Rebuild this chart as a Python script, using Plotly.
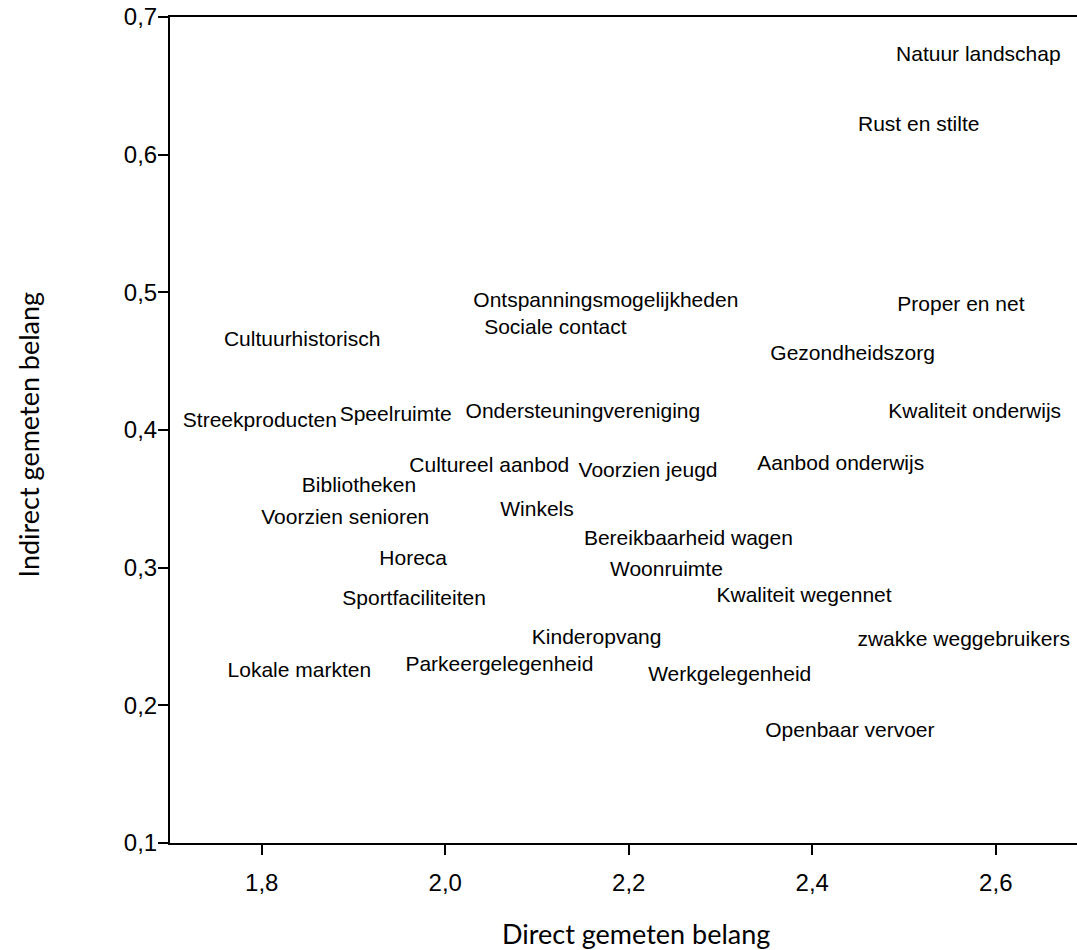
import plotly.graph_objects as go

labels = ["Natuur landschap", "Rust en stilte", "Proper en net", "Gezondheidszorg",
          "Kwaliteit onderwijs", "Aanbod onderwijs", "Ontspanningsmogelijkheden",
          "Sociale contact", "Cultuurhistorisch", "Streekproducten", "Speelruimte",
          "Ondersteuningvereniging", "Cultureel aanbod", "Voorzien jeugd", "Bibliotheken",
          "Voorzien senioren", "Winkels", "Bereikbaarheid wagen", "Horeca", "Woonruimte",
          "Sportfaciliteiten", "Kwaliteit wegennet", "Kinderopvang", "zwakke weggebruikers",
          "Lokale markten", "Parkeergelegenheid", "Werkgelegenheid", "Openbaar vervoer"]
direct = [2.581, 2.516, 2.562, 2.444, 2.577, 2.431, 2.175, 2.120, 1.844, 1.798, 1.946,
          2.150, 2.048, 2.221, 1.906, 1.891, 2.100, 2.265, 1.965, 2.241, 1.966, 2.391,
          2.165, 2.565, 1.841, 2.059, 2.310, 2.441]
indirect = [0.672, 0.621, 0.490, 0.4545, 0.4124, 0.3746, 0.493, 0.4734, 0.4647, 0.4058,
            0.4102, 0.4124, 0.3731, 0.3695, 0.3586, 0.3354, 0.3412, 0.3201, 0.3056, 0.2976,
            0.2765, 0.2787, 0.2482, 0.2467, 0.2242, 0.2286, 0.2213, 0.1806]
x_ticks = [1.8, 2.0, 2.2, 2.4, 2.6]
y_ticks = [0.1, 0.2, 0.3, 0.4, 0.5, 0.6, 0.7]
x_title = "Direct gemeten belang"
y_title = "Indirect gemeten belang"

fig = go.Figure(go.Scatter(
    x=direct, y=indirect, text=labels, mode="text", textposition="middle center",
    textfont=dict(family="Liberation Sans, Arial", size=21, color="black"),
    hoverinfo="text", showlegend=False))

# plot area: 170..1077 px horizontally, 17..843 px vertically
title_font = dict(family="Lato, Open Sans", size=27, color="black")
fig.update_layout(
    width=1077, height=950, separators=", ",
    margin=dict(l=170, r=0, t=17, b=107, autoexpand=False),
    plot_bgcolor="white", paper_bgcolor="white",
    font=dict(family="Liberation Sans, Arial", color="black"),
    annotations=[
        dict(text=x_title, xref="paper", yref="paper", x=0.5138, y=-0.1096,
             xanchor="center", yanchor="middle", showarrow=False, font=title_font),
        dict(text=y_title, xref="paper", yref="paper", x=-0.156, y=0.494,
             xanchor="center", yanchor="middle", textangle=-90, showarrow=False,
             font=title_font),
    ],
)
fig.update_xaxes(
    range=[1.7, 2.6885], tickvals=x_ticks, tickformat=".1f", automargin=False,
    showline=True, linecolor="black", linewidth=2, mirror=True,
    ticks="outside", ticklen=10, tickwidth=2, tickcolor="black",
    showgrid=False, zeroline=False, ticklabelstandoff=7,
    tickfont=dict(family="Liberation Sans, Arial", size=24),
)
fig.update_yaxes(
    range=[0.1, 0.7], tickvals=y_ticks, tickformat=".1f", automargin=False,
    showline=True, linecolor="black", linewidth=2,
    ticks="outside", ticklen=10, tickwidth=2, tickcolor="black",
    showgrid=False, zeroline=False, ticklabelstandoff=-4, ticklabeloverflow="allow",
    tickfont=dict(family="Liberation Sans, Arial", size=24),
)
fig.write_html("out.html", config={"displayModeBar": False},
               post_script="document.body.style.margin = '0';")
